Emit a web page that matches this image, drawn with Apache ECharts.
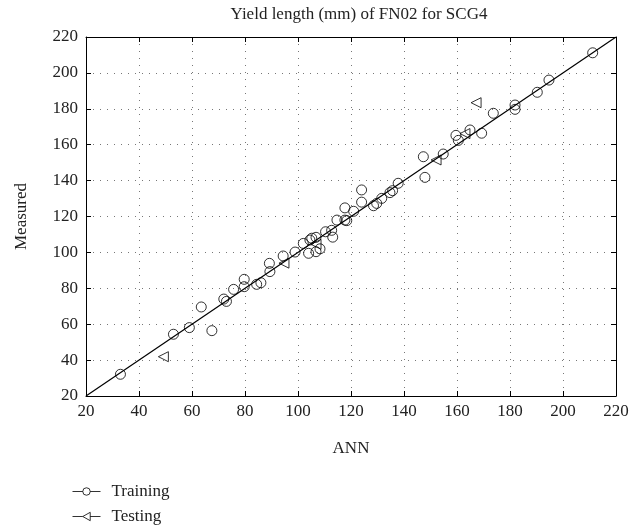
<!DOCTYPE html>
<html>
<head>
<meta charset="utf-8">
<script src="https://cdn.jsdelivr.net/npm/echarts@6/dist/echarts.min.js"></script>
<style>html,body{margin:0;padding:0;background:#fff}#c{width:643px;height:529px}</style>
</head>
<body>
<div id="c"></div>
<script>
// Data (ANN, Measured)
const trainingANN = [33, 53, 59, 63.5, 67.5, 72, 73, 75.7, 79.7, 79.7, 84.4, 86, 89.2, 89.4, 94.4, 98.9, 102, 104, 104.5, 105.2, 106.8, 106.8, 108.3, 110.4, 112.7, 113.1, 114.7, 117.7, 117.7, 118.4, 121, 124, 124, 128.5, 129.7, 131.6, 134.7, 135.7, 137.8, 147.3, 147.9, 154.8, 159.6, 160.5, 164.9, 169.3, 173.7, 181.9, 181.9, 190.3, 194.7, 211.2];
const trainingMeasured = [32.1, 54.4, 58.1, 69.6, 56.4, 74, 72.7, 79.4, 85, 80.9, 82.2, 83.1, 93.9, 89.3, 98, 100.2, 105, 99.5, 106.9, 107.9, 100.4, 108.4, 102, 111.5, 112.3, 108.5, 118, 118, 124.8, 117.7, 122.9, 134.8, 128, 126, 127.3, 130.1, 133.3, 134.4, 138.5, 153.3, 141.8, 154.8, 165.2, 162.4, 168.2, 166.4, 177.5, 182.1, 179.7, 189.2, 196, 211.2];
const testingANN = [49.2, 94.7, 106.8, 152.1, 163, 167.2];
const testingMeasured = [41.9, 94, 104.5, 151.5, 166.2, 183.4];
const lineX = [20, 220];
const xTicks = [20, 40, 60, 80, 100, 120, 140, 160, 180, 200, 220];
const yTicks = [20, 40, 60, 80, 100, 120, 140, 160, 180, 200, 220];

const FONT = '"Liberation Serif", "DejaVu Serif", serif';
const FS = 17;
const chart = echarts.init(document.getElementById('c'), null, {renderer: 'canvas'});
const zip = (a, b) => a.map((v, i) => [v, b[i]]);
const baseAxis = {
  type: 'value', min: xTicks[0], max: xTicks[xTicks.length - 1], interval: 20,
  axisLine: {show: true, lineStyle: {color: '#000', width: 1}},
  axisTick: {show: true, inside: true, length: 5, lineStyle: {color: '#000'}},
  splitLine: {show: false}
};
const circlePath = 'path://M0,10 L11,10 M19,10 L30,10 M19,10 A4,4 0 1,1 11,10 A4,4 0 1,1 19,10 Z';
const triPath = 'path://M0,10 L11,10 M19,10 L30,10 M11,10 L19,5.5 L19,14.5 Z';

chart.setOption({
  animation: false,
  backgroundColor: '#fff',
  title: {
    text: 'Yield length (mm) of FN02 for SCG4',
    left: 354, top: 1, textAlign: 'center',
    textStyle: {fontFamily: FONT, fontSize: FS, fontWeight: 'normal', color: '#222'}
  },
  legend: {
    orient: 'vertical', left: 70, top: 483, itemGap: 8, padding: 0,
    itemWidth: 28, itemHeight: 19,
    textStyle: {fontFamily: FONT, fontSize: FS, color: '#222', padding: [0, 0, 0, 6]},
    data: [
      {name: 'Training', icon: circlePath, itemStyle: {color: 'none', borderColor: '#000', borderWidth: 1}},
      {name: 'Testing', icon: triPath, itemStyle: {color: 'none', borderColor: '#000', borderWidth: 1}}
    ]
  },
  grid: {left: 86, right: 27, top: 37, bottom: 133, containLabel: false},
  xAxis: [
    Object.assign({}, baseAxis, {
      position: 'bottom', name: 'ANN', nameLocation: 'middle', nameGap: 44,
      nameTextStyle: {fontFamily: FONT, fontSize: FS, color: '#222'},
      axisLabel: {fontFamily: FONT, fontSize: FS, color: '#222', margin: 7},
      splitLine: {show: true, lineStyle: {color: '#777', type: [1, 6], width: 1}}
    }),
    Object.assign({}, baseAxis, {position: 'top', axisLabel: {show: false}})
  ],
  yAxis: [
    Object.assign({}, baseAxis, {
      min: yTicks[0], max: yTicks[yTicks.length - 1],
      position: 'left', name: 'Measured', nameLocation: 'middle', nameGap: 56,
      nameTextStyle: {fontFamily: FONT, fontSize: FS, color: '#222'},
      axisLabel: {fontFamily: FONT, fontSize: FS, color: '#222', margin: 8},
      splitLine: {show: true, lineStyle: {color: '#777', type: [1, 6], width: 1}}
    }),
    Object.assign({}, baseAxis, {min: yTicks[0], max: yTicks[yTicks.length - 1], position: 'right', axisLabel: {show: false}})
  ],
  series: [
    {
      name: 'Fit', type: 'line', data: zip(lineX, lineX), symbol: 'none',
      lineStyle: {color: '#000', width: 1.2}, z: 3, silent: true
    },
    {
      name: 'Training', type: 'scatter', data: zip(trainingANN, trainingMeasured),
      symbol: 'circle', symbolSize: 10,
      itemStyle: {color: 'none', borderColor: '#000', borderWidth: 1}, z: 4
    },
    {
      name: 'Testing', type: 'scatter', data: zip(testingANN, testingMeasured),
      symbol: 'triangle', symbolSize: [10, 10], symbolRotate: 90,
      itemStyle: {color: 'none', borderColor: '#000', borderWidth: 1}, z: 4
    }
  ]
});
</script>
</body>
</html>
